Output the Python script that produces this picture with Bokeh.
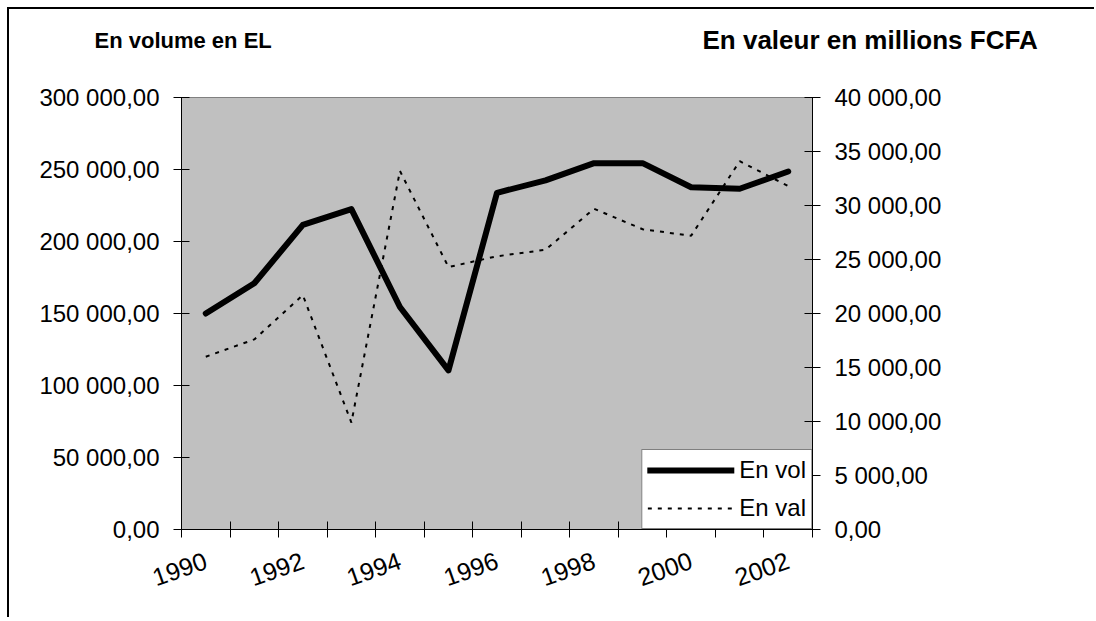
from bokeh.plotting import figure
from bokeh.models import (Range1d, LinearAxis, FixedTicker, Label, Legend, LegendItem)
from bokeh.embed import file_html
from bokeh.resources import INLINE

years = [1990, 1991, 1992, 1993, 1994, 1995, 1996, 1997, 1998, 1999, 2000, 2001, 2002]
en_vol = [150000, 171000, 211500, 222500, 154500, 110500, 233800, 242500, 254400, 254400, 237700, 236600, 248600]
en_val = [16000, 17600, 21700, 9900, 33200, 24300, 25300, 25900, 29700, 27800, 27200, 34100, 31800]

x_label_years = [1990, 1992, 1994, 1996, 1998, 2000, 2002]
left_ticks = [0, 50000, 100000, 150000, 200000, 250000, 300000]
left_labels = ["0,00", "50 000,00", "100 000,00", "150 000,00", "200 000,00", "250 000,00", "300 000,00"]
right_ticks = [0, 5000, 10000, 15000, 20000, 25000, 30000, 35000, 40000]
right_labels = ["0,00", "5 000,00", "10 000,00", "15 000,00", "20 000,00", "25 000,00", "30 000,00", "35 000,00", "40 000,00"]

title_left = "En volume en EL"
title_right = "En valeur en millions FCFA"
series_names = ["En vol", "En val"]

FONT = "Liberation Sans"

p = figure(width=1087, height=610, output_backend="svg", toolbar_location=None,
           x_range=Range1d(years[0] - 0.5, years[-1] + 0.5),
           y_range=Range1d(left_ticks[0], left_ticks[-1]),
           min_border_left=172, min_border_right=284, min_border_top=88, min_border_bottom=90,
           background_fill_color="#c0c0c0", border_fill_color="white")
p.styles = {"border-left": "2px solid black", "border-top": "2px solid black",
            "margin-left": "7px", "margin-top": "7px"}
p.outline_line_color = "#808080"
p.xgrid.visible = False
p.ygrid.visible = False

p.extra_y_ranges = {"val": Range1d(right_ticks[0], right_ticks[-1])}

boundaries = [y - 0.5 for y in years] + [years[-1] + 0.5]
xa = p.xaxis[0]
xa.ticker = FixedTicker(ticks=x_label_years, minor_ticks=boundaries)
xa.major_tick_in = 0
xa.major_tick_out = 0
xa.minor_tick_in = 8
xa.minor_tick_out = 8
xa.minor_tick_line_color = "black"
xa.axis_line_color = "black"
xa.major_label_orientation = 0.34
xa.major_label_text_font = FONT
xa.major_label_text_font_size = "25px"
xa.major_label_text_color = "black"
xa.major_label_standoff = 22

ya = p.yaxis[0]
ya.ticker = FixedTicker(ticks=left_ticks, minor_ticks=[])
ya.major_label_overrides = {t: l for t, l in zip(left_ticks, left_labels)}
ya.major_tick_in = 8
ya.major_tick_out = 8
ya.major_tick_line_color = "black"
ya.axis_line_color = "black"
ya.major_label_text_font = FONT
ya.major_label_text_font_size = "24px"
ya.major_label_text_color = "black"
ya.major_label_standoff = 14

ra = LinearAxis(y_range_name="val", ticker=FixedTicker(ticks=right_ticks, minor_ticks=[]))
ra.major_label_overrides = {t: l for t, l in zip(right_ticks, right_labels)}
ra.major_tick_in = 8
ra.major_tick_out = 8
ra.major_tick_line_color = "black"
ra.axis_line_color = "black"
ra.major_label_text_font = FONT
ra.major_label_text_font_size = "24px"
ra.major_label_text_color = "black"
ra.major_label_standoff = 14
p.add_layout(ra, "right")

r_vol = p.line(years, en_vol, line_color="black", line_width=6, line_join="round", line_cap="round")
r_val = p.line(years, en_val, y_range_name="val", line_color="black", line_width=2, line_dash="4 6")

legend = Legend(items=[LegendItem(label=series_names[0], renderers=[r_vol]),
                       LegendItem(label=series_names[1], renderers=[r_val])],
                location="bottom_right", orientation="vertical",
                border_line_color="black", border_line_width=1,
                background_fill_color="white", background_fill_alpha=1.0,
                label_text_font=FONT, label_text_font_size="24px", label_text_color="black",
                glyph_width=87, glyph_height=30, label_standoff=5,
                padding=5, spacing=8, margin=0, label_height=24)
p.add_layout(legend, "center")

p.add_layout(Label(x=-87, y=57, x_units="screen", y_units="screen", text=title_left,
                   text_font=FONT, text_font_size="22px", text_font_style="bold",
                   text_color="black", text_baseline="middle", text_align="left"), "above")
p.add_layout(Label(x=521, y=33, x_units="screen", y_units="screen", text=title_right,
                   text_font=FONT, text_font_size="26px", text_font_style="bold",
                   text_color="black", text_baseline="middle", text_align="left"), "above")

open("out.html", "w").write(file_html(p, INLINE))
